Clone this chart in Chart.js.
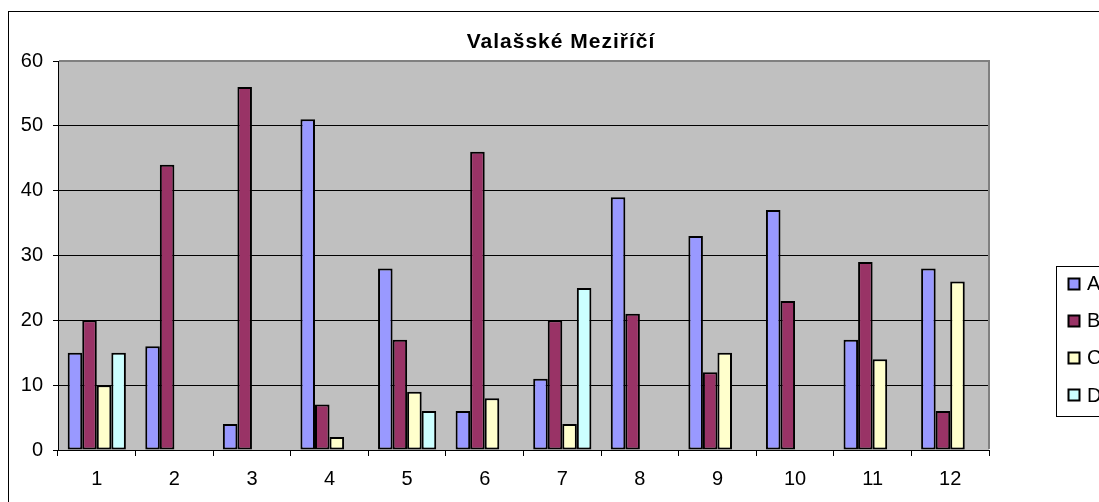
<!DOCTYPE html>
<html>
<head>
<meta charset="utf-8">
<script src="https://cdn.jsdelivr.net/npm/chart.js@4.4.1/dist/chart.umd.min.js"></script>
<style>
html,body{margin:0;padding:0;background:#fff;overflow:hidden;}
canvas{display:block;}
</style>
</head>
<body>
<canvas id="c" width="1099" height="502"></canvas>
<script>
const titleText = "Valašské Meziříčí";
const categories = ["1","2","3","4","5","6","7","8","9","10","11","12"];
const seriesNames = ["A","B","C","D"];
const seriesA = [15,16,4,51,28,6,11,39,33,37,17,28];
const seriesB = [20,44,56,7,17,46,20,21,12,23,29,6];
const seriesC = [10,null,null,2,9,8,4,null,15,null,14,26];
const seriesD = [15,null,null,null,6,null,25,null,null,null,null,null];
const yTicks = [0,10,20,30,40,50,60];
const seriesColors = ["#9999FF","#993366","#FFFFCC","#CCFFFF"];

const FONT = "'Liberation Sans', Arial, sans-serif";

const decor = {
  id: 'decor',
  beforeDraw(chart) {
    const ctx = chart.ctx, a = chart.chartArea;
    ctx.save();
    ctx.fillStyle = '#fff';
    ctx.fillRect(0, 0, chart.width, chart.height);
    ctx.strokeStyle = '#000';
    ctx.lineWidth = 1;
    ctx.strokeRect(8.5, 11.5, 1300, 700);
    ctx.fillStyle = '#C0C0C0';
    ctx.fillRect(a.left, a.top, a.right - a.left, a.bottom - a.top);
    ctx.restore();
  },
  afterDatasetsDraw(chart) {
    const ctx = chart.ctx, a = chart.chartArea;
    ctx.save();
    ctx.strokeStyle = '#808080';
    ctx.lineWidth = 2;
    ctx.beginPath();
    ctx.moveTo(a.left + 1, a.top);
    ctx.lineTo(a.right, a.top);
    ctx.lineTo(a.right, a.bottom - 1);
    ctx.stroke();
    ctx.restore();
  },
  afterDraw(chart) {
    const ctx = chart.ctx;
    ctx.save();
    ctx.fillStyle = '#000';
    ctx.font = "bold 21px " + FONT;
    ctx.textAlign = 'center';
    ctx.textBaseline = 'alphabetic';
    try { ctx.letterSpacing = '1px'; } catch (e) {}
    ctx.fillText(titleText, 561, 47.5);
    try { ctx.letterSpacing = '0px'; } catch (e) {}
    ctx.strokeStyle = '#000';
    ctx.lineWidth = 1;
    ctx.strokeRect(1056.5, 266.5, 120, 150);
    ctx.font = "20px " + FONT;
    ctx.textAlign = 'left';
    ctx.textBaseline = 'middle';
    seriesNames.forEach((n, i) => {
      const cy = 283.5 + i * 37.2;
      ctx.fillStyle = seriesColors[i];
      ctx.fillRect(1068.5, Math.round(cy) - 5.5, 11, 11);
      ctx.strokeStyle = '#000';
      ctx.lineWidth = 2;
      ctx.strokeRect(1068.5, Math.round(cy) - 5.5, 11, 11);
      ctx.fillStyle = '#000';
      ctx.fillText(n, 1087, cy + 1);
    });
    ctx.restore();
  }
};

const seriesData = [seriesA, seriesB, seriesC, seriesD];

new Chart(document.getElementById('c'), {
  type: 'bar',
  data: {
    labels: categories,
    datasets: seriesNames.map((n, i) => ({
      label: n,
      data: seriesData[i],
      backgroundColor: seriesColors[i],
      borderColor: '#000',
      borderWidth: 2,
      borderSkipped: false,
      categoryPercentage: 0.75,
      barPercentage: 1.0
    }))
  },
  options: {
    responsive: false,
    animation: false,
    devicePixelRatio: 1,
    layout: { padding: { left: 0, top: 61, right: 110, bottom: 0 } },
    plugins: {
      legend: { display: false },
      title: { display: false },
      tooltip: { enabled: false }
    },
    scales: {
      x: {
        offset: true,
        afterFit(s) { s.height = 52; },
        grid: {
          offset: true,
          drawOnChartArea: false,
          drawTicks: true,
          tickLength: 6,
          tickColor: '#000',
          lineWidth: 1
        },
        border: { display: true, color: '#000', width: 1 },
        ticks: {
          color: '#000',
          font: { family: FONT, size: 20 },
          padding: 11,
          maxRotation: 0,
          autoSkip: false
        }
      },
      y: {
        min: 0,
        max: 60,
        afterFit(s) { s.width = 58; },
        afterBuildTicks(s) { s.ticks = yTicks.map(v => ({ value: v })); },
        grid: {
          color: ctx => (ctx.tick && ctx.tick.value === 60) ? 'rgba(0,0,0,0)' : '#000',
          lineWidth: 1,
          drawTicks: true,
          tickLength: 5,
          tickColor: '#000'
        },
        border: { display: true, color: '#000', width: 1 },
        ticks: {
          color: '#000',
          font: { family: FONT, size: 20 },
          padding: 10
        }
      }
    }
  },
  plugins: [decor]
});
</script>
</body>
</html>
